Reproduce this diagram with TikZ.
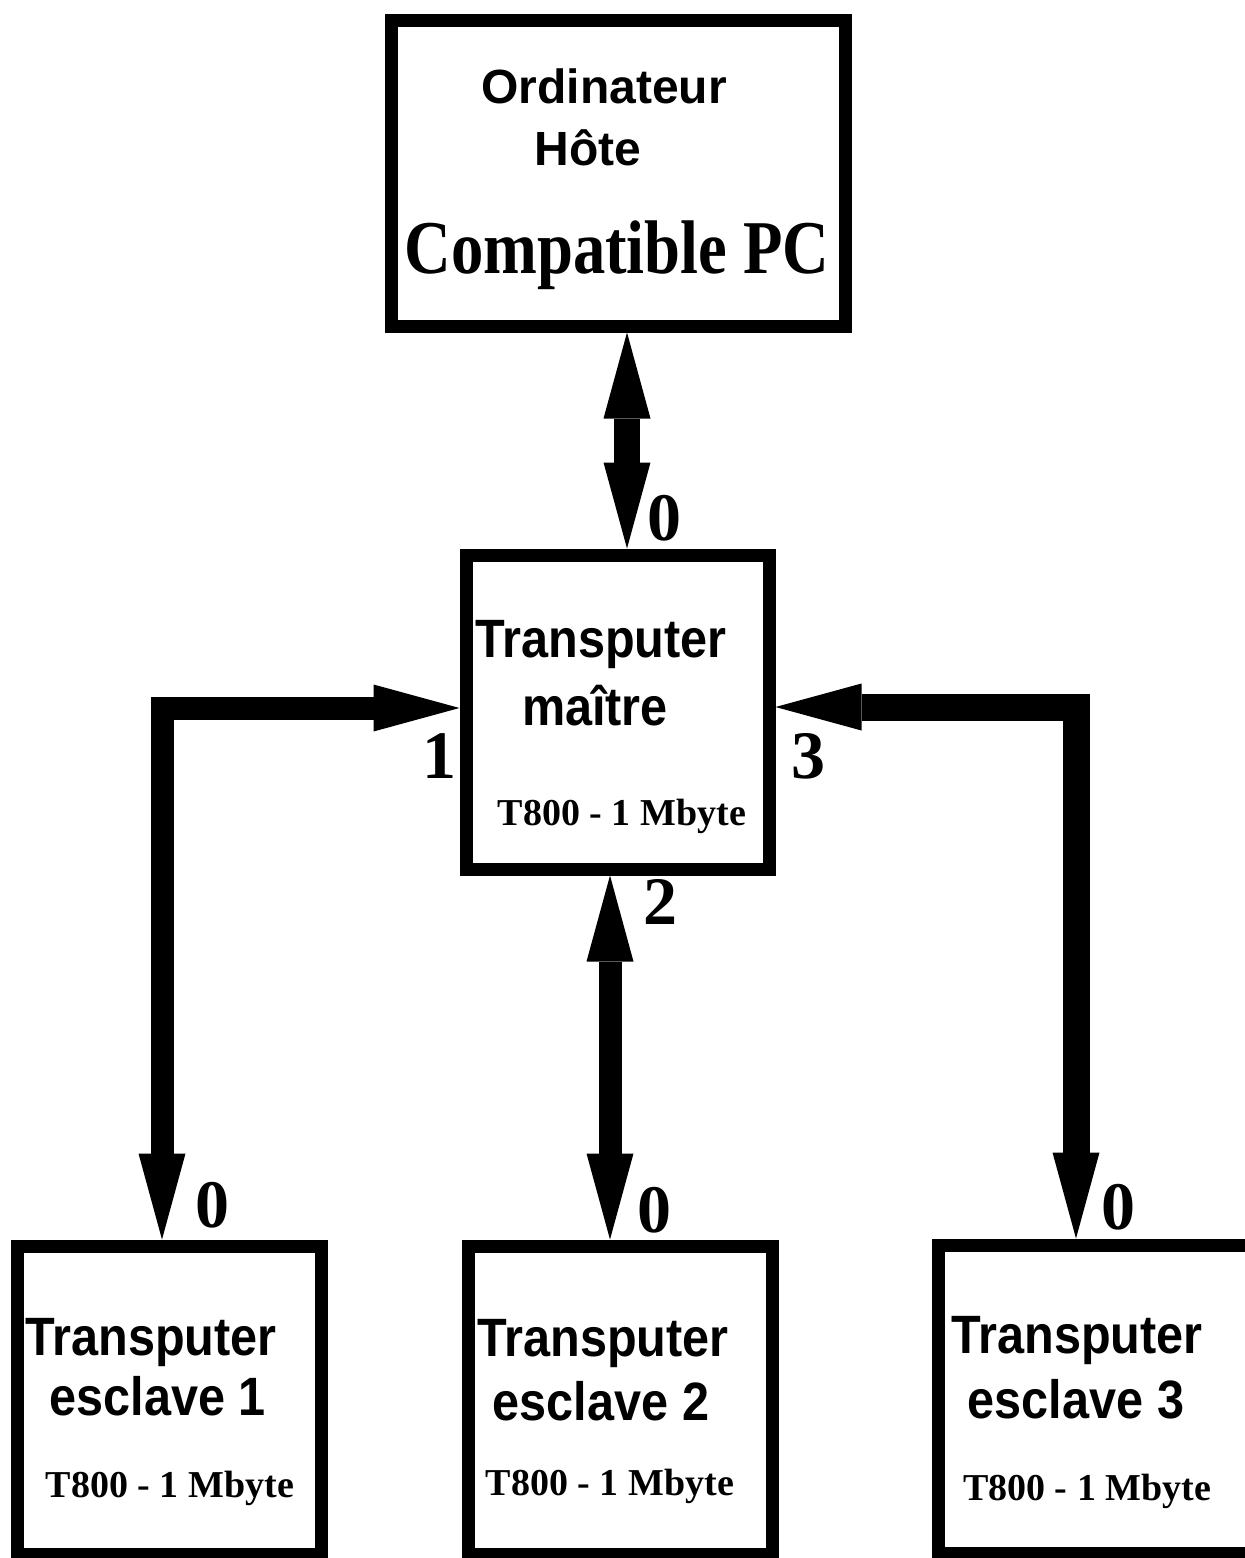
\documentclass[tikz,border=0pt]{standalone}
\usepackage{fontspec}
\setmainfont{Liberation Serif}
\setsansfont{Liberation Sans}
\newfontfamily\narrowserif[FakeStretch=0.85]{Liberation Serif}
\newfontfamily\narrowsans[FakeStretch=0.9]{Liberation Sans}
\usetikzlibrary{arrows.meta,positioning}

\begin{document}
\begin{tikzpicture}[
			x=0.5pt, y=-0.5pt,
			every node/.style={align=center, inner sep=0pt},
			box/.style={draw, line width=6.5pt, minimum width=#1},
			hostBox/.style={box=227pt, minimum height=153pt},
			masterBox/.style={box=151.5pt, minimum height=157pt},
			slaveBox/.style={box=152pt, minimum height=154pt},
			hostText/.style={anchor=base, font=\sffamily\bfseries\fontsize{24}{28}\selectfont},
			pcText/.style={anchor=base, font=\narrowserif\bfseries\fontsize{38}{40}\selectfont},
			tpText/.style={anchor=base, font=\narrowsans\bfseries\fontsize{27}{30}\selectfont},
			memText/.style={anchor=base, font=\rmfamily\bfseries\fontsize{19}{22}\selectfont},
			linkNum/.style={font=\rmfamily\bfseries\fontsize{34}{36}\selectfont},
			link/.style={line width=11.5pt,
				{Triangle[length=43pt, width=23.5pt, line width=0pt]}-{Triangle[length=43pt, width=23.5pt, line width=0pt]}}
		]
		\useasboundingbox (0,0) rectangle (1245,1558);

		% boxes
		\node[hostBox] (host) at (618,173) {};
		\node[masterBox] (master) at (617.5,712) {};
		\node[slaveBox] (slave1) at (169.5,1400) {};
		\node[slaveBox] (slave2) at (620.5,1400) {};
		\node[slaveBox, minimum width=160pt] (slave3) at (1098,1399) {};

		% texts
		\node[hostText] (hostA) at (604,103) {Ordinateur};
		\node[hostText] (hostB) at (588,165) {H\^ote};
		\node[pcText] (hostC) at (617,273) {Compatible PC};

		\node[tpText] (masterA) at (601,657) {Transputer};
		\node[tpText] (masterB) at (595,725) {ma\^itre};
		\node[memText] (masterC) at (622,825) {T800 - 1 Mbyte};

		\node[tpText] (slave1A) at (151,1355) {Transputer};
		\node[tpText] (slave1B) at (158,1415) {esclave 1};
		\node[memText] (slave1C) at (170,1497) {T800 - 1 Mbyte};

		\node[tpText] (slave2A) at (603,1356) {Transputer};
		\node[tpText] (slave2B) at (601,1420) {esclave 2};
		\node[memText] (slave2C) at (610,1495) {T800 - 1 Mbyte};

		\node[tpText] (slave3A) at (1077,1353) {Transputer};
		\node[tpText] (slave3B) at (1076,1418) {esclave 3};
		\node[memText] (slave3C) at (1087,1500) {T800 - 1 Mbyte};

		% links
		\draw[link, line width=13pt] ([xshift=4.5pt]host.south) -- ([xshift=4.5pt]host.south |- master.north);
		\draw[link] ([xshift=-3.75pt]master.south) -- ([xshift=-3.75pt]master.south |- slave2.north);
		\draw[link] ([xshift=-3.75pt]slave1.north) |- ([yshift=2pt]master.west);
		\draw[link, line width=13.5pt] ([xshift=-11pt]slave3.north) |- ([yshift=2.5pt]master.east);

		% link numbers
		\node[linkNum] (n0) at (664,518) {0};
		\node[linkNum] (n1) at (439,756) {1};
		\node[linkNum] (n2) at (660,902) {2};
		\node[linkNum] (n3) at (808,756) {3};
		\node[linkNum] (s1) at (212,1205) {0};
		\node[linkNum] (s2) at (654,1210) {0};
		\node[linkNum] (s3) at (1118,1207) {0};
	\end{tikzpicture}
\end{document}
